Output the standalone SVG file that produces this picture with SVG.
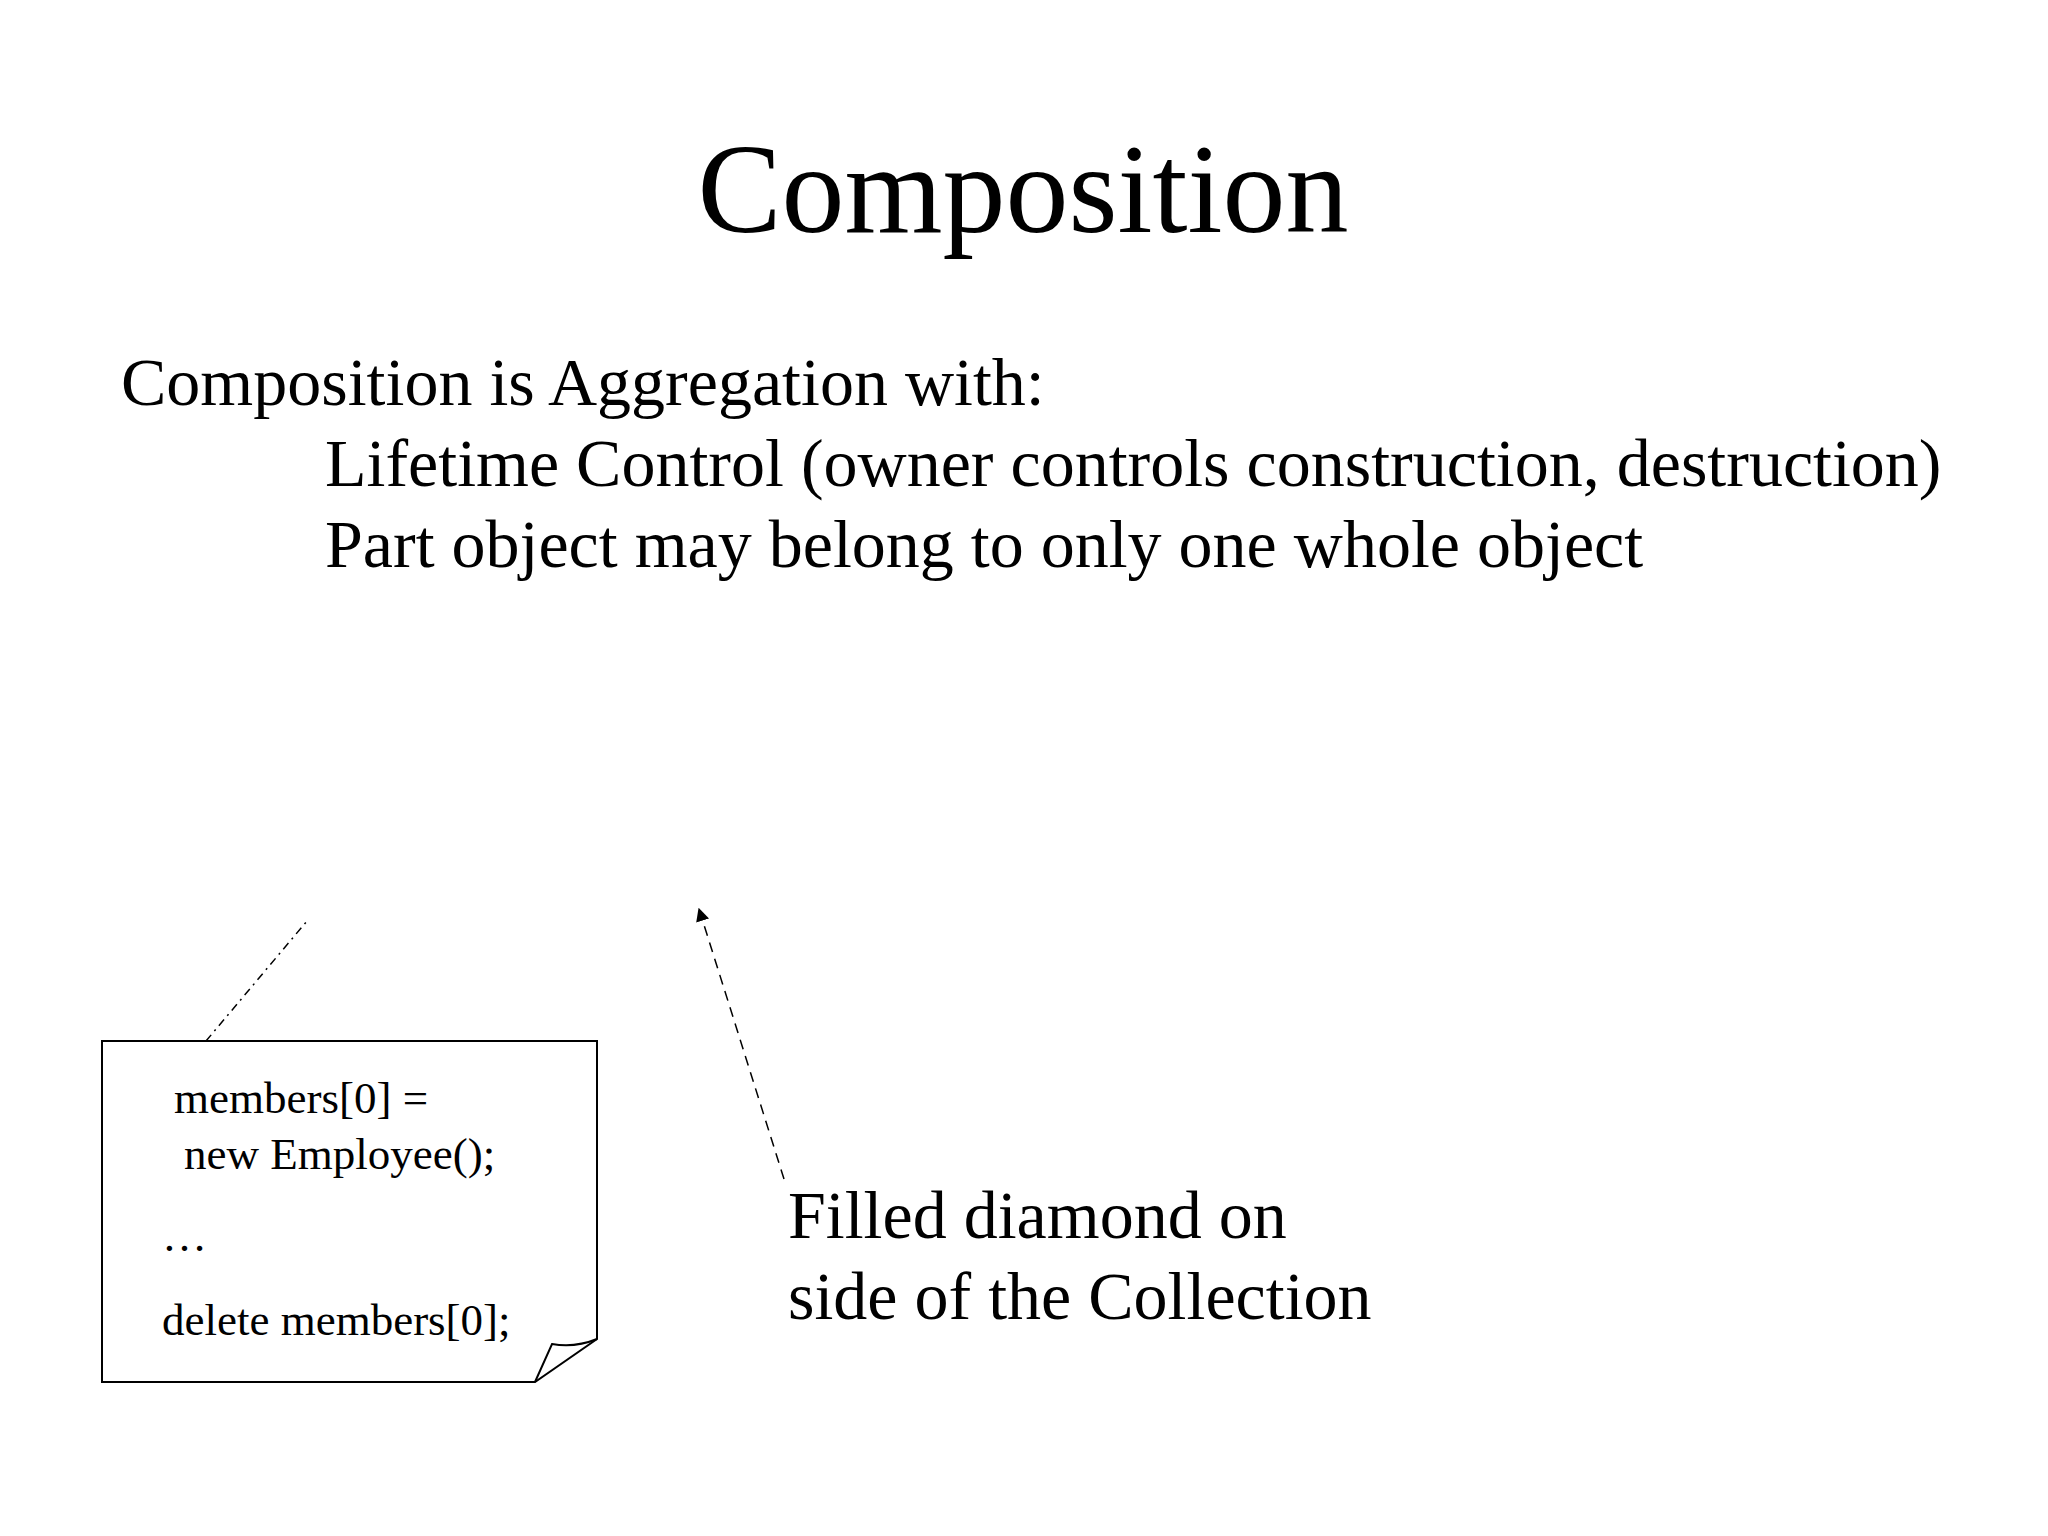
<svg xmlns="http://www.w3.org/2000/svg" width="2048" height="1536" viewBox="0 0 2048 1536">
<style>
text{font-family:"Liberation Serif","Times New Roman",serif;fill:#000}
.b{font-size:68px}.n{font-size:45px}
</style>
<defs><marker id="ah" viewBox="0 0 10 10" refX="9" refY="5" markerWidth="9" markerHeight="9" orient="auto"><path d="M0,0L10,5L0,10z" fill="#000"/></marker></defs>
<rect width="2048" height="1536" fill="#fff"/>
<text x="1023" y="232" font-size="126" text-anchor="middle">Composition</text>
<text class="b" x="121" y="405">Composition is Aggregation with:</text>
<text class="b" x="325" y="486">Lifetime Control (owner controls construction, destruction)</text>
<text class="b" x="325" y="567">Part object may belong to only one whole object</text>
<g id="note">
<path d="M102,1041H597V1339L535,1382H102Z" fill="#fff" stroke="#000" stroke-width="2"/>
<path d="M535,1382L552,1344Q575,1348 597,1339" fill="none" stroke="#000" stroke-width="2"/>
<text class="n" x="174" y="1113">members[0] =</text>
<text class="n" x="184" y="1169">new Employee();</text>
<text class="n" x="162" y="1251">…</text>
<text class="n" x="162" y="1335">delete members[0];</text>
</g>
<g id="label"><text class="b" x="788" y="1238">Filled diamond on</text><text class="b" x="788" y="1319">side of the Collection</text></g>
<g id="connectors" fill="none" stroke="#000" stroke-width="1.5">
<path d="M206,1041L307,921" stroke-dasharray="8,5,2,5"/>
<path d="M784,1179L699,909" stroke-dasharray="10,7" marker-end="url(#ah)"/>
</g>
</svg>
